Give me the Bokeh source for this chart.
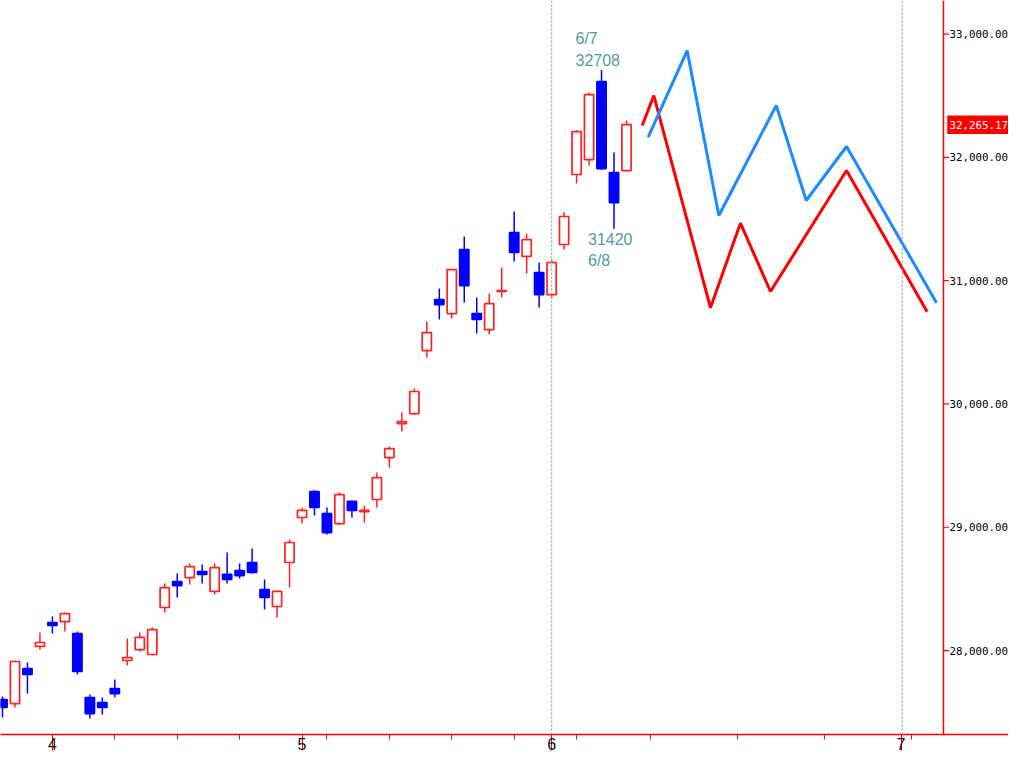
from bokeh.plotting import figure
from bokeh.models import Range1d, FixedTicker, Span, Label, ColumnDataSource
from bokeh.core.properties import value
from bokeh.embed import file_html
from bokeh.resources import INLINE

# ---- data ----
dates = ["3/28", "3/29", "3/30", "3/31",
         "4/3", "4/4", "4/5", "4/6", "4/7",
         "4/10", "4/11", "4/12", "4/13", "4/14",
         "4/17", "4/18", "4/19", "4/20", "4/21",
         "4/24", "4/25", "4/26", "4/27", "4/28",
         "5/1", "5/2",
         "5/8", "5/9", "5/10", "5/11", "5/12",
         "5/15", "5/16", "5/17", "5/18", "5/19",
         "5/22", "5/23", "5/24", "5/25", "5/26",
         "5/29", "5/30", "5/31",
         "6/1", "6/2",
         "6/5", "6/6", "6/7", "6/8", "6/9"]
opens = [27603, 27570, 27854, 28033, 28227, 28235, 28138, 27619, 27578, 27692,
         27919, 28008, 27968, 28349, 28560, 28592, 28641, 28479, 28617, 28649,
         28714, 28495, 28357, 28714, 29079, 29290, 29111, 29030, 29209, 29127,
         29225, 29565, 29841, 29922, 30433, 30847, 30733, 31252, 30733, 30603,
         30912, 31390, 31196, 31066, 30887, 31293, 31861, 31982, 32615, 31877,
         31893]
highs = [27627, 27919, 27903, 28146, 28276, 28308, 28154, 27643, 27619, 27765,
         28098, 28146, 28187, 28544, 28625, 28706, 28698, 28706, 28795, 28706,
         28827, 28576, 28487, 28900, 29160, 29300, 29160, 29282, 29215, 29176,
         29444, 29655, 29930, 30125, 30668, 30936, 31095, 31358, 30863, 30895,
         31106, 31560, 31382, 31147, 31171, 31552, 32220, 32526, 32708, 32039,
         32298]
lows = [27457, 27538, 27651, 28008, 28138, 28154, 27806, 27449, 27481, 27619,
        27879, 27992, 27960, 28308, 28430, 28535, 28544, 28454, 28544, 28584,
        28625, 28333, 28268, 28511, 29030, 29095, 28941, 29020, 29079, 29038,
        29160, 29484, 29776, 29910, 30376, 30685, 30693, 30822, 30571, 30563,
        30863, 31155, 31058, 30782, 30855, 31252, 31788, 31934, 31900, 31420,
        31885]
closes = [27538, 27911, 27806, 28065, 28203, 28300, 27830, 27489, 27538, 27651,
          27943, 28106, 28170, 28511, 28527, 28681, 28617, 28673, 28576, 28608,
          28633, 28430, 28479, 28876, 29136, 29160, 28957, 29265, 29136, 29136,
          29403, 29638, 29857, 30101, 30579, 30806, 31090, 30960, 30685, 30814,
          30920, 31228, 31333, 30887, 31147, 31520, 32209, 32509, 31909, 31633,
          32265.17]

# forecast paths (x in trading-day index units of the chart)
red_path_x = [51.26, 52.19, 56.73, 59.13, 61.54, 67.63, 74.09]
red_path_y = [32258, 32501, 30780, 31466, 30912, 31893, 30748]
blue_path_x = [51.74, 54.86, 57.40, 62.00, 64.40, 67.63, 74.84]
blue_path_y = [32163, 32866, 31528, 32420, 31650, 32088, 30821]

month_ticks = [4, 24, 44, 72]
month_labels = ["4", "5", "6", "7"]
week_ticks = [9, 14, 19, 26, 31, 36, 41, 46, 51.9, 58.9, 65.9, 72.8]
month_lines = [44, 72.1]
y_ticks = [28000, 29000, 30000, 31000, 32000, 33000]
y_tick_labels = [f"{v:,.2f}" for v in y_ticks]

# ---- styles / layout constants ----
UP = "#ff2020"
DOWN = "#0000ff"
TEAL = "#4f9b9a"
AXIS_RED = "#ff0000"
MONO = "DejaVu Sans Mono"
X_MIN, X_MAX = -0.16, 80.61     # frame spans the full width; price scale drawn at PRICE_AXIS_X
PRICE_AXIS_X = 75.40
Y_MIN, Y_MAX = 27319, 33272

xs = list(range(len(dates)))
up = [c >= o for o, c in zip(opens, closes)]
src = ColumnDataSource(dict(
    x=xs,
    top=[max(o, c) for o, c in zip(opens, closes)],
    bottom=[min(o, c) for o, c in zip(opens, closes)],
    high=highs, low=lows,
    color=[UP if u else DOWN for u in up],
    fill=["white" if u else DOWN for u in up],
))

p = figure(width=1008, height=752,
           x_range=Range1d(X_MIN, X_MAX), y_range=Range1d(Y_MIN, Y_MAX),
           y_axis_location=None, output_backend="svg", toolbar_location=None,
           min_border_left=0, min_border_top=0, min_border_right=0, min_border_bottom=15)
p.xgrid.visible = False
p.ygrid.visible = False
p.outline_line_color = None
p.background_fill_color = "white"
p.border_fill_color = "white"

for m in month_lines:
    p.add_layout(Span(location=m, dimension="height", line_color="#87a3bf",
                      line_dash="2 2", line_width=1.2))

p.segment(x0="x", y0="low", x1="x", y1="high", source=src, line_color="color", line_width=1.5)
p.vbar(x="x", width=0.74, top="top", bottom="bottom", source=src,
       fill_color="fill", line_color="color", line_width=1.7)

p.line(red_path_x, red_path_y, line_color="#ff0000", line_width=3)
p.line(blue_path_x, blue_path_y, line_color="#1a8cff", line_width=3)

# annotations at the extremes
hi_i = highs.index(max(highs))
lo_i = hi_i + 1 + lows[hi_i + 1:].index(min(lows[hi_i + 1:]))
for txt, xi, yv, xo, yo, base in [
        (str(int(highs[hi_i])), hi_i, highs[hi_i], -26, 4, "bottom"),
        (dates[hi_i], hi_i, highs[hi_i], -26, 23, "bottom"),
        (str(int(lows[lo_i])), lo_i, lows[lo_i], -26, -4, "top"),
        (dates[lo_i], lo_i, lows[lo_i], -26, -23, "top")]:
    p.add_layout(Label(x=xi, y=yv, text=txt, x_offset=xo, y_offset=yo,
                       text_align="left", text_baseline=base, text_color=TEAL,
                       text_font="Liberation Sans", text_font_size="16px"))

# price scale on the right (red line, ticks, labels)
p.add_layout(Span(location=PRICE_AXIS_X, dimension="height", line_color=AXIS_RED, line_width=1.5))
p.segment(x0=[PRICE_AXIS_X] * len(y_ticks), x1=[PRICE_AXIS_X + 0.45] * len(y_ticks),
          y0=y_ticks, y1=y_ticks, line_color=AXIS_RED, line_width=1.2)
p.text(x=[PRICE_AXIS_X] * len(y_ticks), y=y_ticks, text=y_tick_labels, x_offset=6,
       text_align="left", text_baseline="middle", text_font=value(MONO),
       text_font_size="10.8px", text_color="#000000")

# last price tag
p.quad(left=[PRICE_AXIS_X + 0.3], right=[X_MAX], bottom=[closes[-1] - 75], top=[closes[-1] + 75],
       fill_color="#ff0000", line_color=None)
p.text(x=[PRICE_AXIS_X], y=[closes[-1]], text=[f"{closes[-1]:,.2f}"], x_offset=6,
       text_align="left", text_baseline="middle", text_font=value(MONO),
       text_font_size="10.8px", text_color="white")

# x axis
xa = p.xaxis[0]
xa.ticker = FixedTicker(ticks=month_ticks, minor_ticks=week_ticks)
xa.major_label_overrides = {t: l for t, l in zip(month_ticks, month_labels)}
xa.axis_line_color = AXIS_RED
xa.axis_line_width = 1.5
xa.major_tick_line_color = AXIS_RED
xa.minor_tick_line_color = AXIS_RED
xa.major_tick_in = 0
xa.major_tick_out = 16
xa.minor_tick_in = 0
xa.minor_tick_out = 5
xa.major_label_standoff = -13
xa.major_label_text_align = "left"
xa.major_label_text_font = "Liberation Sans"
xa.major_label_text_font_size = "16px"
xa.major_label_text_line_height = 0.75
xa.major_label_text_color = "#111111"

open("out.html", "w").write(file_html(p, INLINE))
